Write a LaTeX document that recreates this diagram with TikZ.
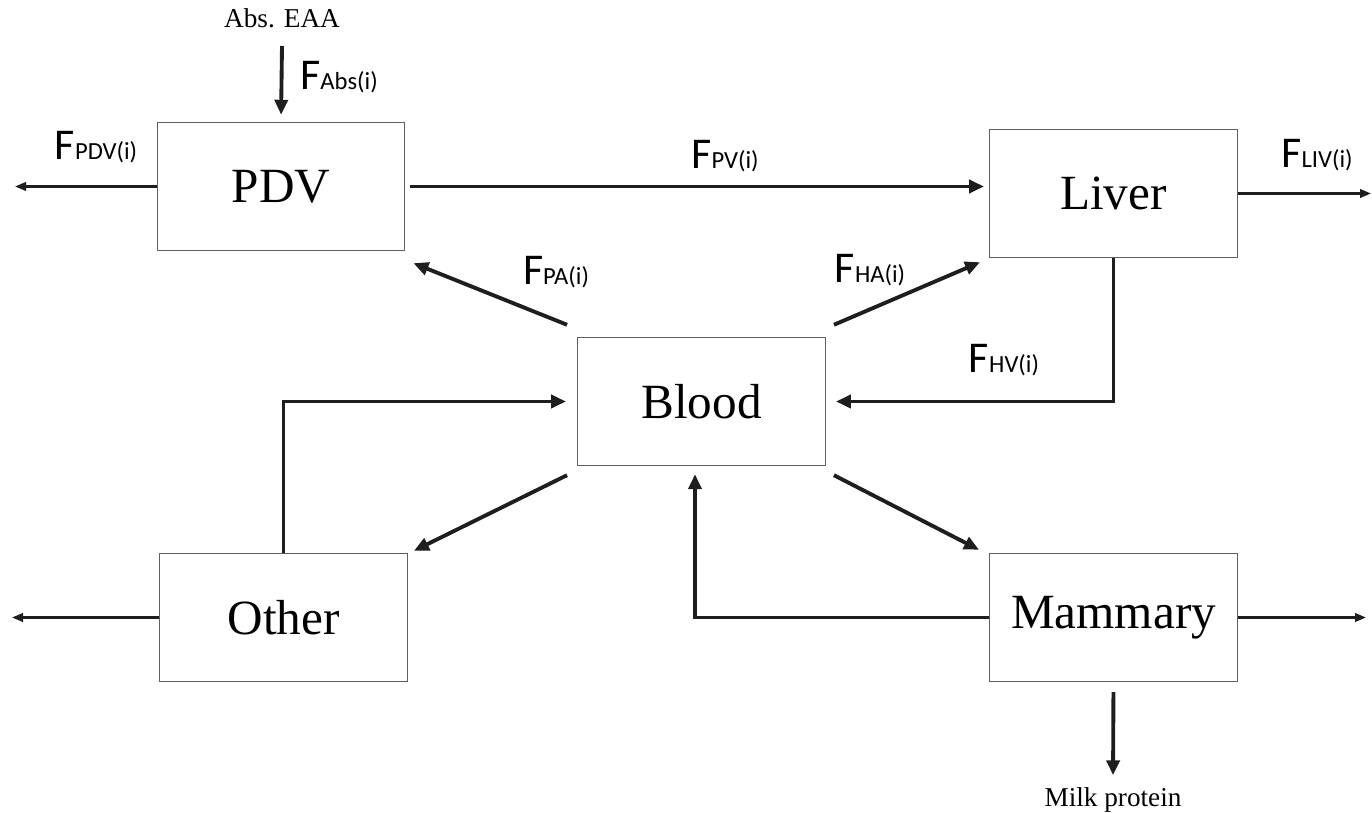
\documentclass[tikz,border=0pt]{standalone}
\usepackage{fontspec}
\setmainfont{Liberation Serif}
\newfontfamily\labelfont{Carlito}
\usetikzlibrary{arrows.meta,positioning}
\definecolor{boxgray}{RGB}{95,95,95}
\definecolor{flowblack}{RGB}{30,30,30}
\newcommand{\flux}[1]{{\fontsize{25}{28}\selectfont F}{\fontsize{14}{16}\selectfont #1}}

\begin{document}
\begin{tikzpicture}[
    flow/.style={
        line width=2.2pt,
        draw=flowblack,
        -{Triangle[length=0.3cm,width=0.26cm]}
    },
    outflow/.style={
        line width=1.3pt,
        draw=flowblack,
        -{Triangle[length=0.22cm,width=0.17cm]}
    },
    box/.style={
        rectangle,
        draw=boxgray,
        line width=0.8pt,
        minimum width=4.95cm,
        minimum height=2.56cm,
        inner sep=0pt,
        font=\fontsize{28}{32}\selectfont
    },
    flabel/.style={font=\labelfont, inner sep=0pt},
    note/.style={font=\fontsize{15.5}{18}\selectfont, inner sep=0pt}
]
\useasboundingbox (0,0) rectangle (27.44,-16.26);

% Compartments
\node[box] (pdv) at (5.62,-3.73) {PDV};
\node[box] (liver) at (22.27,-3.87) {Liver};
\node[box] (blood) at (14.03,-8.03) {Blood};
\node[box] (other) at (5.67,-12.35) {Other};
\node[box] (mammary) at (22.27,-12.35) {Mammary};

% Input and milk
\node[note] (abs) at (5.64,-0.36) {Abs. EAA};
\node[note] (milk) at (22.26,-16.0) {Milk protein};

% Free ends
\coordinate (absin) at (5.64,-0.92);
\coordinate (pdvout) at (0.30,-3.73);
\coordinate (livout) at (27.42,-3.87);
\coordinate (othout) at (0.24,-12.35);
\coordinate (mamout) at (27.32,-12.35);

% Flows in and out
\draw[flow, shorten >=0.14cm] (absin) -- (pdv.north);
\draw[outflow] (pdv.west) -- (pdvout);
\draw[outflow] (liver.east) -- (livout);
\draw[outflow] (other.west) -- (othout);
\draw[outflow] (mammary.east) -- (mamout);
\draw[flow, shorten <=0.2cm, shorten >=0.24cm] (mammary.south) -- (milk.north);

% Flows between compartments
\draw[flow, shorten <=0.1cm, shorten >=0.1cm] (pdv.east) -- (pdv.east -| liver.west);
\draw[flow] ([xshift=-0.2cm,yshift=0.24cm]blood.north west) -- ([xshift=0.16cm,yshift=-0.24cm]pdv.south east);
\draw[flow] ([xshift=0.16cm,yshift=0.24cm]blood.north east) -- ([xshift=-0.18cm,yshift=-0.08cm]liver.south west);
\draw[flow, shorten >=0.2cm] (liver.south) |- (blood.east);
\draw[flow, shorten >=0.22cm] (other.north) |- (blood.west);
\draw[flow] ([xshift=-0.2cm,yshift=-0.18cm]blood.south west) -- ([xshift=0.12cm,yshift=0.04cm]other.north east);
\draw[flow] ([xshift=0.16cm,yshift=-0.18cm]blood.south east) -- ([xshift=-0.2cm,yshift=0.06cm]mammary.north west);
\draw[flow, shorten >=0.16cm] (mammary.west) -| ([xshift=-0.13cm]blood.south);

% Flux labels
\node[flabel] (fabs) at (6.78,-1.54) {\flux{Abs(i)}};
\node[flabel] (fpdv) at (1.92,-2.94) {\flux{PDV(i)}};
\node[flabel] (fpv) at (14.5,-3.12) {\flux{PV(i)}};
\node[flabel] (fliv) at (26.34,-3.10) {\flux{LIV(i)}};
\node[flabel] (fpa) at (11.12,-5.44) {\flux{PA(i)}};
\node[flabel] (fha) at (17.40,-5.40) {\flux{HA(i)}};
\node[flabel] (fhv) at (20.08,-7.20) {\flux{HV(i)}};

\end{tikzpicture}
\end{document}
